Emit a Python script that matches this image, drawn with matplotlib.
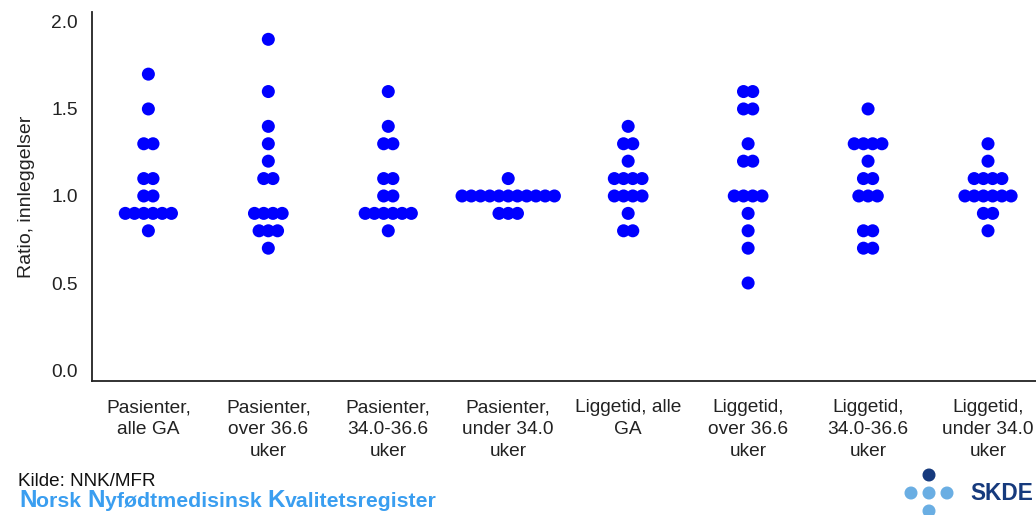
import numpy as np
import matplotlib.pyplot as plt
from matplotlib.patches import Circle

plt.rcParams['font.family'] = ['Liberation Sans', 'DejaVu Sans']

# Kategorier (x-akse)
categories = ["Pasienter,\nalle GA", "Pasienter,\nover 36.6\nuker", "Pasienter,\n34.0-36.6\nuker",
              "Pasienter,\nunder 34.0\nuker", "Liggetid, alle\nGA", "Liggetid,\nover 36.6\nuker",
              "Liggetid,\n34.0-36.6\nuker", "Liggetid,\nunder 34.0\nuker"]

# Ratio per sykehus, en liste per kategori
pas_alle = [1.7, 1.5, 1.3, 1.3, 1.1, 1.1, 1.0, 1.0, 0.9, 0.9, 0.9, 0.9, 0.9, 0.9, 0.8]
pas_over366 = [1.9, 1.6, 1.4, 1.3, 1.2, 1.1, 1.1, 0.9, 0.9, 0.9, 0.9, 0.8, 0.8, 0.8, 0.7]
pas_340_366 = [1.6, 1.4, 1.3, 1.3, 1.1, 1.1, 1.0, 1.0, 0.9, 0.9, 0.9, 0.9, 0.9, 0.9, 0.8]
pas_under340 = [1.1] + [1.0] * 11 + [0.9] * 3
lig_alle = [1.4, 1.3, 1.3, 1.2, 1.1, 1.1, 1.1, 1.1, 1.0, 1.0, 1.0, 1.0, 0.9, 0.8, 0.8]
lig_over366 = [1.6, 1.6, 1.5, 1.5, 1.3, 1.2, 1.2, 1.0, 1.0, 1.0, 1.0, 0.9, 0.8, 0.7, 0.5]
lig_340_366 = [1.5, 1.3, 1.3, 1.3, 1.3, 1.2, 1.1, 1.1, 1.0, 1.0, 1.0, 0.8, 0.8, 0.7, 0.7]
lig_under340 = [1.3, 1.2, 1.1, 1.1, 1.1, 1.1, 1.0, 1.0, 1.0, 1.0, 1.0, 1.0, 0.9, 0.9, 0.8]

groups = [pas_alle, pas_over366, pas_340_366, pas_under340,
          lig_alle, lig_over366, lig_340_366, lig_under340]

yticks = [0.0, 0.5, 1.0, 1.5, 2.0]


# Enkel beeswarm: like verdier legges side om side, sentrert
def swarm(xc, vals, dx=0.077):
    vals = np.asarray(vals)
    xs, ys = [], []
    for v in np.unique(vals):
        k = np.sum(np.isclose(vals, v))
        off = (np.arange(k) - (k - 1) / 2) * dx
        xs.extend(xc + off)
        ys.extend([v] * k)
    return np.array(xs), np.array(ys)


fig = plt.figure(figsize=(10.36, 5.15), dpi=100)
ax = fig.add_axes([92 / 1036, 1 - 381 / 515, 1 - 92 / 1036, (381 - 12) / 515])

for i, vals in enumerate(groups):
    x, y = swarm(i, vals)
    ax.scatter(x, y, s=88, color='#0000ff', edgecolors='none', zorder=3)

ax.set_xlim(-0.47, 7.4)
ax.set_ylim(-0.063, 2.057)
ax.set_yticks(yticks)
ax.set_yticklabels([f"{t:.1f}" for t in yticks], fontsize=13.8, color='#222222')
ax.set_xticks(range(len(categories)))
ax.set_xticklabels(categories, fontsize=13.8, color='#222222', linespacing=1.4, va='top')
ax.tick_params(length=0, axis='y', pad=10)
ax.tick_params(length=0, axis='x', pad=13)
ax.set_ylabel("Ratio, innleggelser", fontsize=14, color='#222222', labelpad=12)
for side in ['top', 'right']:
    ax.spines[side].set_visible(False)
for side in ['left', 'bottom']:
    ax.spines[side].set_linewidth(1.3)
    ax.spines[side].set_color('#222222')

# Kilde
fig.text(18 / 1036, 1 - 482 / 515, "Kilde: NNK/MFR", fontsize=13.6, va='center', color='#111111')

# Registernavn med store forbokstaver
blue = '#3a9ef0'
parts = [("N", 17.5), ("orsk ", 15.3), ("N", 17.5), ("yfødtmedisinsk ", 15.3), ("K", 17.5), ("valitetsregister", 15.3)]
fig.canvas.draw()
renderer = fig.canvas.get_renderer()
xpix = 19
for txt, fs in parts:
    t = fig.text(xpix / 1036, 1 - 507 / 515, txt, fontsize=fs, fontweight='bold',
                 color=blue, va='baseline')
    bb = t.get_window_extent(renderer)
    xpix += bb.width

# SKDE-logo
light = '#6aaee3'
dark = '#163a7d'
for cx, cy, c in [(9.29, 0.40, dark), (9.11, 0.22, light), (9.29, 0.22, light),
                  (9.47, 0.22, light), (9.29, 0.04, light)]:
    fig.add_artist(Circle((cx, cy), 0.058, transform=fig.dpi_scale_trans, color=c))
fig.text(970 / 1036, 1 - 493 / 515, "SKDE", fontsize=16.3, fontweight='bold', color=dark, va='center')

fig.savefig("out.png", dpi=100)
